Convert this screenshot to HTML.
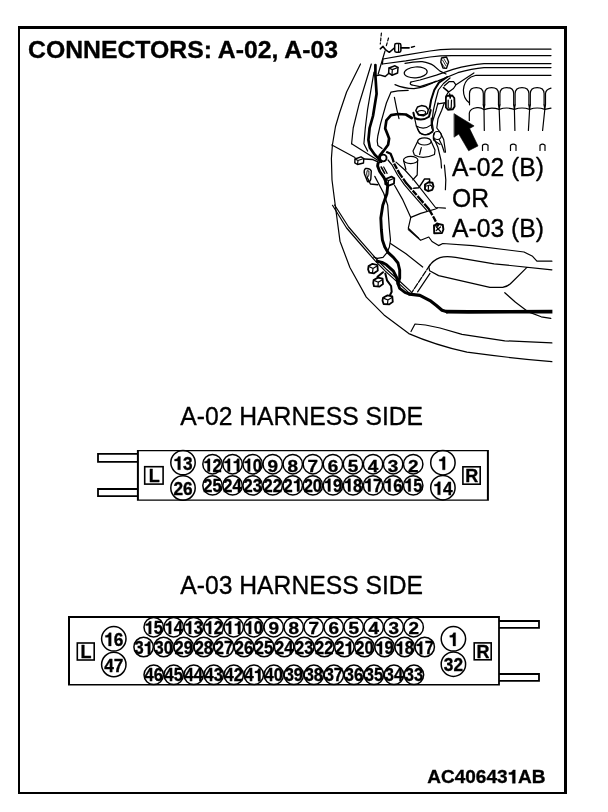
<!DOCTYPE html>
<html><head><meta charset="utf-8"><title>CONNECTORS: A-02, A-03</title>
<style>
html,body{margin:0;padding:0;background:#fff;}
body{width:608px;height:812px;overflow:hidden;position:relative;font-family:"Liberation Sans",sans-serif;}
svg{position:absolute;left:0;top:0;filter:grayscale(1);}
svg text{font-family:"Liberation Sans",sans-serif;fill:#000;stroke:#000;stroke-width:0.35px;stroke-linejoin:round;}
</style></head><body>
<svg width="608" height="812" viewBox="0 0 608 812">
<rect x="0" y="0" width="608" height="812" fill="#fff"/>
<!-- frame -->
<path d="M18 26H567V794H18Z M20 29V792H564V29Z" fill="#000" fill-rule="evenodd"/>
<text x="28.1" y="57.8" font-size="24.75" font-weight="bold">CONNECTORS: A-02, A-03</text>
<!-- car drawing -->
<g id="car" fill="none" stroke="#000" stroke-width="1.2" stroke-linecap="round" stroke-linejoin="round">
<!-- cowl / top horizontal lines -->
<path d="M383 59 L405 55.2 L430 51 Q440 49.2 452 49.2 H551"/>
<path d="M382.4 64 L405.8 60.9 L430 57 Q440 55.6 452 55.6 H551"/>
<path d="M383 59 L382.4 64"/>
<path d="M551 63.6 H484 Q470 64.5 453 69.4 L436.4 75.1 L420 80 L411 82"/>
<path d="M551 67.6 H484 Q472 68.5 457.8 72.7 L438 80.9 L420 86.6 L412 85"/>
<path d="M411 82 Q409 84 412 85"/>
<path d="M551 75.3 H476 L471 77 Q464 81 463.4 90 Q463.4 99 469.5 103"/>
<!-- dashed verticals & squiggle & top connector -->
<path d="M381.4 33 L380.3 44" stroke-dasharray="3 2"/>
<path d="M388.5 38 L386 47" stroke-dasharray="3 2"/>
<path d="M385 51 L378.2 74"/>
<path d="M380.3 48.8 L383 46.4 L386 50.2 L389.3 52.3 L394.3 48" stroke-width="1.6"/>
<rect x="394.7" y="43.6" width="6.2" height="8.6" rx="1.6" stroke-width="1.5"/>
<path d="M398.6 44.4 V51.4"/>
<path d="M401.2 47.8 H409" stroke-width="1.8"/>
<path d="M411.5 47.2 L414.5 46.4" stroke-width="1.5"/>
<!-- oval and surrounding -->
<ellipse cx="415.7" cy="72.4" rx="11.5" ry="5.4" transform="rotate(-4 415.7 72.4)"/>
<path d="M405 63.4 Q414 61.5 422.2 61.7 Q430 63 433.8 65.8 L440 71.1 L446 74"/>
<!-- small connector near squiggle -->
<path d="M389 68 L395 65.8 L398 67.5 L397.6 73 L392 75.2 L388.6 73 Z" stroke-width="1.5"/>
<path d="M389 68 L392.3 69.6 L398 67.5 M392.3 69.6 L392 75.2"/>
<path d="M375.4 75.7 L379.5 74.9 L385.2 76.5 L388.6 73.5" stroke-width="1.5"/>
<!-- fender lines upper-left -->
<path d="M360.5 64 L346.6 92 L339.5 113 L335.5 126.5 L332.4 145 L331.4 158.5 L332 180 L334.3 198 L340 241.2 L349.9 267.5 L366.3 297.1 L384 314.9 L408.8 333.6 Q435 345 467 352.2 Q510 358 551.9 361.7"/>
<path d="M371.3 64 L359 104.3 L353.2 128 L351.6 143.7"/>
<path d="M374 72 L367.6 109.3 L365.3 128 L363.9 143.7 L367.6 151.1"/>
<!-- thick wire upper-left -->
<path d="M375.4 65 L375.4 75.7 L376.6 93.8 L373 116 L369.6 128 L368.4 139.9 L369.9 147.8 L374.8 154.7 L378.8 158.6 L381.2 161.6" stroke-width="2.7"/>
<!-- inner curves -->
<path d="M395 84.6 Q403.6 88.4 414 88.6 Q426 87 435.9 81.2"/>
<path d="M408.2 90.4 L397.9 90.9 L391 92.1 L386.4 103 L380.6 123.7 L377.8 136 L377.2 141 L377.9 145.6 L382 148.6"/>
<path d="M394.4 97.3 L396.7 108.8 L399 118.6"/>
<path d="M411.7 118 L405.9 114.5 L397.9 114 L391 115.1 L386.4 120.3 L385.2 128.4 L387.4 134 L389.1 138.5 L388.1 144.8 L383.7 150.7 L379.7 155.7 L378.8 158.6" stroke-width="2.7"/>
<circle cx="383.3" cy="158" r="3.3" stroke-width="1.8"/>
<!-- reservoir cap -->
<path d="M415.8 110.5 L417.5 107 L421.5 105.6 L425.8 106.4 L428.3 109.5 L427.5 113.3 L423.5 115.8 L418.5 115 Z" stroke-width="1.5"/>
<ellipse cx="421.6" cy="112.6" rx="4" ry="2.1"/>
<path d="M413.4 112.8 L414.6 118 Q422 121.6 429 116.8 L430.7 110" stroke-width="2"/>
<path d="M414.6 118 L416.3 126 Q424 130.6 431.3 124.9 L431.3 118"/>
<path d="M416.3 126 L419.7 133 Q426.7 137.2 433 131.8 L431.3 124.9"/>
<!-- hoses -->
<path d="M447.2 77 L438.9 82.6 L434.3 90 L431.1 100 L429.6 108.6" stroke-width="2"/>
<path d="M450 78 L443.5 83.5 L438.4 90 L435.7 100 L433.4 110.2 L432 121.3 L433.4 130.3"/>
<path d="M444.4 85.8 L449 81.7 L453.6 81.7 L455.9 84.9 L453.5 88.5 L449 91.8"/>
<path d="M443.5 87.6 L448.6 91.8" stroke-width="1.6"/>
<path d="M448.6 91.8 L445.8 96.4"/>
<path d="M473.9 72.9 L456.4 84.4"/>
<path d="M438 102.8 L436.1 110.2 L432.6 121.3 L431.8 128"/>
<path d="M444.4 102.8 L441.7 110.2 L438 118.8 L436.8 128 L440.3 132.6 L443.7 139.5 L445.5 152.2"/>
<path d="M438 103.8 L444.4 102.8"/>
<circle cx="437.4" cy="135.5" r="4"/>
<path d="M434.5 139.5 L438 147.6 L440.9 160 L441.5 168"/>
<path d="M439.1 139.5 L442 145.3 L444.3 152.2"/>
<!-- clip near cowl -->
<path d="M441.5 58 L446.5 57 L448.6 62 L446.5 68.4 L443 68 L440.8 62 Z" stroke-width="1.4"/>
<path d="M442.5 60 L446 66 M444 59 L447 64 M441.5 63 L444.5 67.5" stroke-width="0.8"/>
<!-- A-02 connector on car -->
<path d="M445.9 97.5 L447 95.8 L452.3 95.5 L454.3 98 L454.6 106.5 L452.7 109.4 L448.1 109.8 L445.9 107.5 Z" stroke-width="1.8"/>
<path d="M448.2 100 V108 L451.2 108.3 L451.5 100"/>
<path d="M449.6 94 L450.3 98" stroke-width="1.6"/>
<!-- engine cover -->
<path d="M469.5 104.8 V93.5 Q469.7 87.6 476.4 87.6 Q483.1 87.6 483.3 93.5 V104.8"/>
<path d="M484.7 104.8 V93.5 Q484.9 87.6 491.6 87.6 Q498.3 87.6 498.5 93.5 V104.8"/>
<path d="M499.9 104.8 V93.5 Q500.1 87.6 506.8 87.6 Q513.5 87.6 513.7 93.5 V104.8"/>
<path d="M515.1 104.8 V93.5 Q515.3 87.6 522.0 87.6 Q528.7 87.6 528.9 93.5 V104.8"/>
<path d="M530.3 104.8 V93.5 Q530.5 87.6 537.2 87.6 Q543.9 87.6 544.1 93.5 V104.8"/>
<path d="M545.5 104.8 V93.5 Q545.8 89.5 551 88.2"/>
<path d="M469.3 120.4 V113 Q470 108.4 477 107.6 Q481.0 107.2 484.0 109.6 Q491.6 106.6 499.2 109.4 Q506.8 106.6 514.4 109.4 Q522.0 106.6 529.6 109.4 Q537.2 106.6 544.8 109.4 L551 108.2"/>
<path d="M484.0 109.5 L484.3 130.5 M499.2 109.5 L500.0 130.5 M514.4 109.5 L514.9 130.5 M529.6 109.5 L528.4 130.5 M544.8 109.5 L542.6 130.5"/>
<path d="M483.3 104.8 L484.0 109.5 L484.7 104.8 M498.5 104.8 L499.2 109.5 L499.9 104.8 M513.7 104.8 L514.4 109.5 L515.1 104.8 M528.9 104.8 L529.6 109.5 L530.3 104.8 M544.1 104.8 L544.8 109.5 L545.5 104.8"/>
<path d="M482.5 150.5 V145.2 Q485.2 143.2 488 145.2 V150.5 M510.5 150.5 V145.2 Q513.2 143.2 516 145.2 V150.5 M540 150.5 V145.2 Q542.5 143.2 545 145.2 V150.5"/>
<!-- arrow -->
<path d="M454.3 113.8 L474.1 125.9 L469.6 128.6 L478 145.9 L468.6 150.8 L458.8 134.1 L454.3 137 Z" fill="#000" stroke-width="0.6"/>
<!-- reservoir cone and cylinder -->
<ellipse cx="424.4" cy="141.4" rx="6.8" ry="3.6"/>
<path d="M417.6 141.4 L413 151 L414.4 155.1 Q423 160 434.5 154.5 L435 150 L431.2 141.4"/>
<path d="M421.3 147.6 L419.6 154.5"/>
<ellipse cx="410.7" cy="160" rx="7.2" ry="3.6"/>
<path d="M403.6 160.6 L405.9 169.5 M417.6 160.6 L417.2 175 L412.8 179.9"/>
<path d="M417.3 128 Q419 134 424 134.6 Q429 134.6 432 131.3"/>
<path d="M434.6 133 Q432.5 137 433.8 140.3 L440 144.4"/>
<!-- diagonal bar -->
<path d="M351.6 143.7 L381 162.2"/>
<path d="M331.9 145 L355 157.5"/>
<path d="M396 162.1 L404.9 170 L413.8 179.9 L435.5 207.5 L445.4 208.2"/>
<path d="M386.2 151.8 L390.6 153.7 L392.6 158.6 L394.1 163.6 L399.5 173.4 L406.4 183.3 L413.3 191.2 L419.2 198.1 L428.8 209 L434 218 L438.3 226.5" stroke-width="2.3" stroke-linecap="butt" stroke-dasharray="14 1.3 6 1.3 9 1.3"/>
<path d="M388 160 L392.2 165.2 L397.6 175 L404.5 184.9 L411.4 192.8 L417.3 199.7 L426.9 210.6"/>
<!-- left connectors -->
<path d="M355 159 L361 156.8 L363.8 158.5 L363.5 163 L357.5 164.5 L354.8 162.8 Z" stroke-width="1.4"/>
<path d="M355 159 L358 160.5 L363.8 158.5 M358 160.5 L357.5 164.5"/>
<path d="M364.4 159.1 L372.8 159.6 L379.7 162.6" stroke-width="1.5"/>
<path d="M365.5 168.5 Q363.5 170 364.5 174 L367.5 181.5 Q370 182.5 370.8 179 L371.3 171 Q370 168 365.5 168.5 Z" stroke-width="1.4"/>
<path d="M367 171 Q366 174 367.5 177.5 Q369.5 176 369 171.5 Z" stroke-width="0.9"/>
<path d="M367.1 177.3 L370.4 184 L377.8 184.7" stroke-width="1.4"/>
<path d="M385.6 179 L391.5 176.6 L394.3 178.3 L394 183.6 L388 185.8 L385.2 184 Z" stroke-width="1.8"/>
<path d="M385.6 179 L388.5 180.6 L394.3 178.3 M388.5 180.6 L388 185.8"/>
<!-- thick wire middle -->
<path d="M378 163.5 L377.6 166 L379.7 171.5 L384 177.6 L387.7 185.6 L386.9 193.8 L382.8 205.3 L380.8 218 L381.4 230 L382.4 240 L384.8 246.9 L388.2 252.7 L393.4 257.3 L398 263 L399.7 270 L399.7 278 L398 283.7 L399.7 288.4 L404.9 292.4 L409.5 294.1" stroke-width="2.9"/>
<path d="M381.2 167 L384.7 173.4" stroke-width="1.6"/>
<path d="M383.7 167 L387.1 173.4"/>
<path d="M374.8 176.4 L383.7 193.2 L387.7 205.3 L389.3 228 L390.5 240 L389.4 246.9 L387 252.7 L383 257.3 L377.3 258.4 L373.5 257"/>
<path d="M394.5 185.3 L402.4 199.1 L410.8 217.4 L408.3 228.2 L418.7 238.1"/>
<path d="M410.8 217.4 L420.7 213.4 L435.5 209 L437.5 208"/>
<!-- right connector near reservoir -->
<path d="M425 184.5 L428.5 182.3 L432.5 182.8 L433.5 186.5 L432.3 189.8 L428.2 191.2 L425 189.5 Z" stroke-width="1.9"/>
<path d="M426.5 186 L430 185 L432 186.5 M428.5 186 L428.3 189.5"/>
<path d="M413.8 188.3 L418.7 187.8 L424.6 178.9 L429.6 178.9 L429.6 182.5" stroke-width="1.5"/>
<path d="M444.4 165 L445.8 179.9 L445.4 189.7"/>
<!-- A-03 connector small -->
<path d="M434 225.5 L438.5 223.8 L442.8 225 L443.4 229.5 L442 233 L434.2 233.2 Z" stroke-width="1.9"/>
<path d="M436 226.5 L440.5 231.5 M436.2 230.5 L440.5 227"/>
<!-- lower left -->
<path d="M332.5 205.3 L346.6 228 L360 243.5 L375 260.7 L385.3 271.1 L398 282.6 L409.5 293.4"/>
<path d="M334.6 205 L348.6 227 L361.8 242.3 L376.8 259.5 L387 269.8 L399.7 281.3 L411 291.6"/>
<path d="M368.6 266 L372.5 263.8 L377.4 265 L377.8 270.5 L374 273.3 L369.3 272.6 L368.1 269.5 Z" stroke-width="1.8"/>
<path d="M369.5 266.8 L373 268.5 L377 266 M373 268.5 L372.5 272.8"/>
<path d="M373.6 280 L378 277.6 L382.6 278.6 L383 284 L379.5 286.6 L374 286.2 L373.2 283 Z" stroke-width="1.8"/>
<path d="M374.6 280.6 L378.3 282.2 L382.3 279.8 M378.3 282.2 L378 286.2"/>
<path d="M383 297.8 L387.5 295.4 L392.3 296.4 L392.8 301.8 L389.3 304.4 L383.6 304 L382.5 300.6 Z" stroke-width="1.8"/>
<path d="M384 298.4 L387.9 300 L392 297.6 M387.9 300 L387.5 304"/>
<path d="M383 272.2 L377.5 276.8" stroke-width="2"/>
<path d="M385.3 273.4 L387 280.3 L391.1 286 L391.7 291.8 L390 295.3" stroke-width="2"/>
<path d="M377.3 261.3 L382 262.4 L386.5 264.8 L393.4 271.1 L396.8 278 L398 283.7" stroke-width="3"/>
<path d="M390.5 243.5 L406 253.8 L422.7 267"/>
<path d="M430 264.8 L410.7 294.1" stroke-dasharray="6 1.5"/>
<path d="M430 273.4 L417.6 291.8"/>
<!-- thick wire bottom -->
<path d="M409.5 294.1 L419.9 295.3 L430 300.6 L436.4 305.5 L442 310.2 L447 311.7" stroke-width="3.2"/>
<path d="M446 311.7 L468.5 311.9 L552.4 311.6" stroke-width="3.7" stroke-linecap="butt"/>
<!-- headlight and hood lines -->
<path d="M408.3 229.6 L420.6 240.3 L428.8 237 L432 241.5 L438.6 245.6 L442.8 243.5 L472.8 245.6 L524 252 L532.6 256.3 L536.9 261.2 L551.9 261.2"/>
<path d="M551.9 269.8 L494.1 263.8 L455.7 257.4 Q446 255.6 440 257.6 Q433 260 428.8 266.7 L429.6 270.8 L438.6 275.6 L489.9 287.3 L502.7 287.3 Q508 286.5 511.2 283 L526.2 268.1"/>
<path d="M504.8 292.7 L515.5 302.3 L528.4 311.9 L541.2 316.8 L550.8 318.3"/>
<path d="M411 331.5 L415 324 L425.5 325 L440 328 L462 334.4 L504.8 340.8 L551.9 342.9"/>

</g>
<text transform="translate(452,176.3) scale(0.928,1)" font-size="26.6">A-02 (B)</text>
<text transform="translate(452,206.8) scale(0.928,1)" font-size="26.6">OR</text>
<text transform="translate(452,237.3) scale(0.928,1)" font-size="26.6">A-03 (B)</text>
<text transform="translate(180.3,424.8) scale(0.928,1)" font-size="26.6">A-02 HARNESS SIDE</text>
<text transform="translate(180.3,593.7) scale(0.928,1)" font-size="26.6">A-03 HARNESS SIDE</text>
<g id="a02">
<path d="M136.9 449.9H488.9V500.8H136.9Z M138.9 451.25V499.5H486.9V451.25Z" fill="#000" fill-rule="evenodd"/>
<path d="M137.5 453.9H98V461.9H137.5M137.5 489H98V496.2H137.5" fill="none" stroke="#000" stroke-width="1.8"/>
<rect x="144.7" y="466.7" width="18.40" height="17.40" fill="#fff" stroke="#000" stroke-width="1.6"/><text x="154.20" y="481.90" text-anchor="middle" font-size="18" font-weight="bold">L</text>
<rect x="462.9" y="466.8" width="17.30" height="17.40" fill="#fff" stroke="#000" stroke-width="1.6"/><text x="471.85" y="482.00" text-anchor="middle" font-size="18" font-weight="bold">R</text>
<circle cx="183.00" cy="462.60" r="12.2" fill="none" stroke="#000" stroke-width="1.5"/><path transform="translate(173.38,469.70) scale(17.298,-18.600)" d="M0.255 0H0.405V0.705H0.285L0.235 0.612L0.16 0.572L0.07 0.562V0.468H0.255Z" fill="#000" stroke="#000" stroke-width="0.02" stroke-linejoin="round"/><text transform="translate(183.00,469.70) scale(0.93,1)" font-size="18.6" font-weight="bold">3</text>
<circle cx="183.00" cy="488.00" r="12.2" fill="none" stroke="#000" stroke-width="1.5"/><text transform="translate(173.38,495.10) scale(0.93,1)" font-size="18.6" font-weight="bold">26</text>
<circle cx="442.90" cy="462.70" r="12.2" fill="none" stroke="#000" stroke-width="1.5"/><path transform="translate(438.09,469.80) scale(17.298,-18.600)" d="M0.255 0H0.405V0.705H0.285L0.235 0.612L0.16 0.572L0.07 0.562V0.468H0.255Z" fill="#000" stroke="#000" stroke-width="0.02" stroke-linejoin="round"/>
<circle cx="442.90" cy="487.70" r="12.2" fill="none" stroke="#000" stroke-width="1.5"/><path transform="translate(433.28,494.80) scale(17.298,-18.600)" d="M0.255 0H0.405V0.705H0.285L0.235 0.612L0.16 0.572L0.07 0.562V0.468H0.255Z" fill="#000" stroke="#000" stroke-width="0.02" stroke-linejoin="round"/><text transform="translate(442.90,494.80) scale(0.93,1)" font-size="18.6" font-weight="bold">4</text>
<circle cx="212.50" cy="464.20" r="9.7" fill="none" stroke="#000" stroke-width="1.5"/><path transform="translate(203.29,471.50) scale(16.560,-18.000)" d="M0.255 0H0.405V0.705H0.285L0.235 0.612L0.16 0.572L0.07 0.562V0.468H0.255Z" fill="#000" stroke="#000" stroke-width="0.02" stroke-linejoin="round"/><text transform="translate(212.50,471.50) scale(0.92,1)" font-size="18" font-weight="bold">2</text>
<circle cx="232.57" cy="464.20" r="9.7" fill="none" stroke="#000" stroke-width="1.5"/><path transform="translate(223.36,471.50) scale(16.560,-18.000)" d="M0.255 0H0.405V0.705H0.285L0.235 0.612L0.16 0.572L0.07 0.562V0.468H0.255Z" fill="#000" stroke="#000" stroke-width="0.02" stroke-linejoin="round"/><path transform="translate(232.57,471.50) scale(16.560,-18.000)" d="M0.255 0H0.405V0.705H0.285L0.235 0.612L0.16 0.572L0.07 0.562V0.468H0.255Z" fill="#000" stroke="#000" stroke-width="0.02" stroke-linejoin="round"/>
<circle cx="252.64" cy="464.20" r="9.7" fill="none" stroke="#000" stroke-width="1.5"/><path transform="translate(243.43,471.50) scale(16.560,-18.000)" d="M0.255 0H0.405V0.705H0.285L0.235 0.612L0.16 0.572L0.07 0.562V0.468H0.255Z" fill="#000" stroke="#000" stroke-width="0.02" stroke-linejoin="round"/><text transform="translate(252.64,471.50) scale(0.92,1)" font-size="18" font-weight="bold">0</text>
<circle cx="272.71" cy="464.20" r="9.7" fill="none" stroke="#000" stroke-width="1.5"/><text transform="translate(267.45,471.50) scale(1.1,1)" font-size="17.2" font-weight="bold">9</text>
<circle cx="292.78" cy="464.20" r="9.7" fill="none" stroke="#000" stroke-width="1.5"/><text transform="translate(287.52,471.50) scale(1.1,1)" font-size="17.2" font-weight="bold">8</text>
<circle cx="312.85" cy="464.20" r="9.7" fill="none" stroke="#000" stroke-width="1.5"/><text transform="translate(307.59,471.50) scale(1.1,1)" font-size="17.2" font-weight="bold">7</text>
<circle cx="332.92" cy="464.20" r="9.7" fill="none" stroke="#000" stroke-width="1.5"/><text transform="translate(327.66,471.50) scale(1.1,1)" font-size="17.2" font-weight="bold">6</text>
<circle cx="352.99" cy="464.20" r="9.7" fill="none" stroke="#000" stroke-width="1.5"/><text transform="translate(347.73,471.50) scale(1.1,1)" font-size="17.2" font-weight="bold">5</text>
<circle cx="373.06" cy="464.20" r="9.7" fill="none" stroke="#000" stroke-width="1.5"/><text transform="translate(367.80,471.50) scale(1.1,1)" font-size="17.2" font-weight="bold">4</text>
<circle cx="393.13" cy="464.20" r="9.7" fill="none" stroke="#000" stroke-width="1.5"/><text transform="translate(387.87,471.50) scale(1.1,1)" font-size="17.2" font-weight="bold">3</text>
<circle cx="413.20" cy="464.20" r="9.7" fill="none" stroke="#000" stroke-width="1.5"/><text transform="translate(407.94,471.50) scale(1.1,1)" font-size="17.2" font-weight="bold">2</text>
<circle cx="212.50" cy="485.40" r="9.7" fill="none" stroke="#000" stroke-width="1.5"/><text transform="translate(203.29,491.50) scale(0.92,1)" font-size="18" font-weight="bold">25</text>
<circle cx="232.57" cy="485.40" r="9.7" fill="none" stroke="#000" stroke-width="1.5"/><text transform="translate(223.36,491.50) scale(0.92,1)" font-size="18" font-weight="bold">24</text>
<circle cx="252.64" cy="485.40" r="9.7" fill="none" stroke="#000" stroke-width="1.5"/><text transform="translate(243.43,491.50) scale(0.92,1)" font-size="18" font-weight="bold">23</text>
<circle cx="272.71" cy="485.40" r="9.7" fill="none" stroke="#000" stroke-width="1.5"/><text transform="translate(263.50,491.50) scale(0.92,1)" font-size="18" font-weight="bold">22</text>
<circle cx="292.78" cy="485.40" r="9.7" fill="none" stroke="#000" stroke-width="1.5"/><text transform="translate(283.57,491.50) scale(0.92,1)" font-size="18" font-weight="bold">2</text><path transform="translate(292.78,491.50) scale(16.560,-18.000)" d="M0.255 0H0.405V0.705H0.285L0.235 0.612L0.16 0.572L0.07 0.562V0.468H0.255Z" fill="#000" stroke="#000" stroke-width="0.02" stroke-linejoin="round"/>
<circle cx="312.85" cy="485.40" r="9.7" fill="none" stroke="#000" stroke-width="1.5"/><text transform="translate(303.64,491.50) scale(0.92,1)" font-size="18" font-weight="bold">20</text>
<circle cx="332.92" cy="485.40" r="9.7" fill="none" stroke="#000" stroke-width="1.5"/><path transform="translate(323.71,491.50) scale(16.560,-18.000)" d="M0.255 0H0.405V0.705H0.285L0.235 0.612L0.16 0.572L0.07 0.562V0.468H0.255Z" fill="#000" stroke="#000" stroke-width="0.02" stroke-linejoin="round"/><text transform="translate(332.92,491.50) scale(0.92,1)" font-size="18" font-weight="bold">9</text>
<circle cx="352.99" cy="485.40" r="9.7" fill="none" stroke="#000" stroke-width="1.5"/><path transform="translate(343.78,491.50) scale(16.560,-18.000)" d="M0.255 0H0.405V0.705H0.285L0.235 0.612L0.16 0.572L0.07 0.562V0.468H0.255Z" fill="#000" stroke="#000" stroke-width="0.02" stroke-linejoin="round"/><text transform="translate(352.99,491.50) scale(0.92,1)" font-size="18" font-weight="bold">8</text>
<circle cx="373.06" cy="485.40" r="9.7" fill="none" stroke="#000" stroke-width="1.5"/><path transform="translate(363.85,491.50) scale(16.560,-18.000)" d="M0.255 0H0.405V0.705H0.285L0.235 0.612L0.16 0.572L0.07 0.562V0.468H0.255Z" fill="#000" stroke="#000" stroke-width="0.02" stroke-linejoin="round"/><text transform="translate(373.06,491.50) scale(0.92,1)" font-size="18" font-weight="bold">7</text>
<circle cx="393.13" cy="485.40" r="9.7" fill="none" stroke="#000" stroke-width="1.5"/><path transform="translate(383.92,491.50) scale(16.560,-18.000)" d="M0.255 0H0.405V0.705H0.285L0.235 0.612L0.16 0.572L0.07 0.562V0.468H0.255Z" fill="#000" stroke="#000" stroke-width="0.02" stroke-linejoin="round"/><text transform="translate(393.13,491.50) scale(0.92,1)" font-size="18" font-weight="bold">6</text>
<circle cx="413.20" cy="485.40" r="9.7" fill="none" stroke="#000" stroke-width="1.5"/><path transform="translate(403.99,491.50) scale(16.560,-18.000)" d="M0.255 0H0.405V0.705H0.285L0.235 0.612L0.16 0.572L0.07 0.562V0.468H0.255Z" fill="#000" stroke="#000" stroke-width="0.02" stroke-linejoin="round"/><text transform="translate(413.20,491.50) scale(0.92,1)" font-size="18" font-weight="bold">5</text>
</g>
<g id="a03">
<path d="M68 616H499.9V685.6H68Z M70 617.9V683.9H498.1V617.9Z" fill="#000" fill-rule="evenodd"/>
<path d="M499 621H539V627.9H499M499 674H539V680.8H499" fill="none" stroke="#000" stroke-width="1.8"/>
<rect x="77.3" y="643" width="16.90" height="17.00" fill="#fff" stroke="#000" stroke-width="1.6"/><text x="86.05" y="657.80" text-anchor="middle" font-size="18" font-weight="bold">L</text>
<rect x="474.2" y="642.9" width="17.00" height="16.90" fill="#fff" stroke="#000" stroke-width="1.6"/><text x="483.00" y="657.60" text-anchor="middle" font-size="18" font-weight="bold">R</text>
<circle cx="113.80" cy="638.80" r="12.2" fill="none" stroke="#000" stroke-width="1.5"/><path transform="translate(104.18,645.90) scale(17.298,-18.600)" d="M0.255 0H0.405V0.705H0.285L0.235 0.612L0.16 0.572L0.07 0.562V0.468H0.255Z" fill="#000" stroke="#000" stroke-width="0.02" stroke-linejoin="round"/><text transform="translate(113.80,645.90) scale(0.93,1)" font-size="18.6" font-weight="bold">6</text>
<circle cx="113.80" cy="664.50" r="12.2" fill="none" stroke="#000" stroke-width="1.5"/><text transform="translate(104.18,671.60) scale(0.93,1)" font-size="18.6" font-weight="bold">47</text>
<circle cx="453.40" cy="638.80" r="12.2" fill="none" stroke="#000" stroke-width="1.5"/><path transform="translate(448.59,645.90) scale(17.298,-18.600)" d="M0.255 0H0.405V0.705H0.285L0.235 0.612L0.16 0.572L0.07 0.562V0.468H0.255Z" fill="#000" stroke="#000" stroke-width="0.02" stroke-linejoin="round"/>
<circle cx="453.40" cy="664.20" r="12.2" fill="none" stroke="#000" stroke-width="1.5"/><text transform="translate(443.78,671.30) scale(0.93,1)" font-size="18.6" font-weight="bold">32</text>
<circle cx="153.70" cy="627.20" r="9.7" fill="none" stroke="#000" stroke-width="1.5"/><path transform="translate(144.49,634.00) scale(16.560,-18.000)" d="M0.255 0H0.405V0.705H0.285L0.235 0.612L0.16 0.572L0.07 0.562V0.468H0.255Z" fill="#000" stroke="#000" stroke-width="0.02" stroke-linejoin="round"/><text transform="translate(153.70,634.00) scale(0.92,1)" font-size="18" font-weight="bold">5</text>
<circle cx="173.70" cy="627.20" r="9.7" fill="none" stroke="#000" stroke-width="1.5"/><path transform="translate(164.49,634.00) scale(16.560,-18.000)" d="M0.255 0H0.405V0.705H0.285L0.235 0.612L0.16 0.572L0.07 0.562V0.468H0.255Z" fill="#000" stroke="#000" stroke-width="0.02" stroke-linejoin="round"/><text transform="translate(173.70,634.00) scale(0.92,1)" font-size="18" font-weight="bold">4</text>
<circle cx="193.70" cy="627.20" r="9.7" fill="none" stroke="#000" stroke-width="1.5"/><path transform="translate(184.49,634.00) scale(16.560,-18.000)" d="M0.255 0H0.405V0.705H0.285L0.235 0.612L0.16 0.572L0.07 0.562V0.468H0.255Z" fill="#000" stroke="#000" stroke-width="0.02" stroke-linejoin="round"/><text transform="translate(193.70,634.00) scale(0.92,1)" font-size="18" font-weight="bold">3</text>
<circle cx="213.70" cy="627.20" r="9.7" fill="none" stroke="#000" stroke-width="1.5"/><path transform="translate(204.49,634.00) scale(16.560,-18.000)" d="M0.255 0H0.405V0.705H0.285L0.235 0.612L0.16 0.572L0.07 0.562V0.468H0.255Z" fill="#000" stroke="#000" stroke-width="0.02" stroke-linejoin="round"/><text transform="translate(213.70,634.00) scale(0.92,1)" font-size="18" font-weight="bold">2</text>
<circle cx="233.70" cy="627.20" r="9.7" fill="none" stroke="#000" stroke-width="1.5"/><path transform="translate(224.49,634.00) scale(16.560,-18.000)" d="M0.255 0H0.405V0.705H0.285L0.235 0.612L0.16 0.572L0.07 0.562V0.468H0.255Z" fill="#000" stroke="#000" stroke-width="0.02" stroke-linejoin="round"/><path transform="translate(233.70,634.00) scale(16.560,-18.000)" d="M0.255 0H0.405V0.705H0.285L0.235 0.612L0.16 0.572L0.07 0.562V0.468H0.255Z" fill="#000" stroke="#000" stroke-width="0.02" stroke-linejoin="round"/>
<circle cx="253.70" cy="627.20" r="9.7" fill="none" stroke="#000" stroke-width="1.5"/><path transform="translate(244.49,634.00) scale(16.560,-18.000)" d="M0.255 0H0.405V0.705H0.285L0.235 0.612L0.16 0.572L0.07 0.562V0.468H0.255Z" fill="#000" stroke="#000" stroke-width="0.02" stroke-linejoin="round"/><text transform="translate(253.70,634.00) scale(0.92,1)" font-size="18" font-weight="bold">0</text>
<circle cx="273.70" cy="627.20" r="9.7" fill="none" stroke="#000" stroke-width="1.5"/><text transform="translate(268.44,634.00) scale(1.1,1)" font-size="17.2" font-weight="bold">9</text>
<circle cx="293.70" cy="627.20" r="9.7" fill="none" stroke="#000" stroke-width="1.5"/><text transform="translate(288.44,634.00) scale(1.1,1)" font-size="17.2" font-weight="bold">8</text>
<circle cx="313.70" cy="627.20" r="9.7" fill="none" stroke="#000" stroke-width="1.5"/><text transform="translate(308.44,634.00) scale(1.1,1)" font-size="17.2" font-weight="bold">7</text>
<circle cx="333.70" cy="627.20" r="9.7" fill="none" stroke="#000" stroke-width="1.5"/><text transform="translate(328.44,634.00) scale(1.1,1)" font-size="17.2" font-weight="bold">6</text>
<circle cx="353.70" cy="627.20" r="9.7" fill="none" stroke="#000" stroke-width="1.5"/><text transform="translate(348.44,634.00) scale(1.1,1)" font-size="17.2" font-weight="bold">5</text>
<circle cx="373.70" cy="627.20" r="9.7" fill="none" stroke="#000" stroke-width="1.5"/><text transform="translate(368.44,634.00) scale(1.1,1)" font-size="17.2" font-weight="bold">4</text>
<circle cx="393.70" cy="627.20" r="9.7" fill="none" stroke="#000" stroke-width="1.5"/><text transform="translate(388.44,634.00) scale(1.1,1)" font-size="17.2" font-weight="bold">3</text>
<circle cx="413.70" cy="627.20" r="9.7" fill="none" stroke="#000" stroke-width="1.5"/><text transform="translate(408.44,634.00) scale(1.1,1)" font-size="17.2" font-weight="bold">2</text>
<circle cx="143.60" cy="647.00" r="9.7" fill="none" stroke="#000" stroke-width="1.5"/><text transform="translate(134.39,654.30) scale(0.92,1)" font-size="18" font-weight="bold">3</text><path transform="translate(143.60,654.30) scale(16.560,-18.000)" d="M0.255 0H0.405V0.705H0.285L0.235 0.612L0.16 0.572L0.07 0.562V0.468H0.255Z" fill="#000" stroke="#000" stroke-width="0.02" stroke-linejoin="round"/>
<circle cx="163.68" cy="647.00" r="9.7" fill="none" stroke="#000" stroke-width="1.5"/><text transform="translate(154.47,654.30) scale(0.92,1)" font-size="18" font-weight="bold">30</text>
<circle cx="183.76" cy="647.00" r="9.7" fill="none" stroke="#000" stroke-width="1.5"/><text transform="translate(174.55,654.30) scale(0.92,1)" font-size="18" font-weight="bold">29</text>
<circle cx="203.84" cy="647.00" r="9.7" fill="none" stroke="#000" stroke-width="1.5"/><text transform="translate(194.63,654.30) scale(0.92,1)" font-size="18" font-weight="bold">28</text>
<circle cx="223.92" cy="647.00" r="9.7" fill="none" stroke="#000" stroke-width="1.5"/><text transform="translate(214.71,654.30) scale(0.92,1)" font-size="18" font-weight="bold">27</text>
<circle cx="244.00" cy="647.00" r="9.7" fill="none" stroke="#000" stroke-width="1.5"/><text transform="translate(234.79,654.30) scale(0.92,1)" font-size="18" font-weight="bold">26</text>
<circle cx="264.08" cy="647.00" r="9.7" fill="none" stroke="#000" stroke-width="1.5"/><text transform="translate(254.87,654.30) scale(0.92,1)" font-size="18" font-weight="bold">25</text>
<circle cx="284.16" cy="647.00" r="9.7" fill="none" stroke="#000" stroke-width="1.5"/><text transform="translate(274.95,654.30) scale(0.92,1)" font-size="18" font-weight="bold">24</text>
<circle cx="304.24" cy="647.00" r="9.7" fill="none" stroke="#000" stroke-width="1.5"/><text transform="translate(295.03,654.30) scale(0.92,1)" font-size="18" font-weight="bold">23</text>
<circle cx="324.32" cy="647.00" r="9.7" fill="none" stroke="#000" stroke-width="1.5"/><text transform="translate(315.11,654.30) scale(0.92,1)" font-size="18" font-weight="bold">22</text>
<circle cx="344.40" cy="647.00" r="9.7" fill="none" stroke="#000" stroke-width="1.5"/><text transform="translate(335.19,654.30) scale(0.92,1)" font-size="18" font-weight="bold">2</text><path transform="translate(344.40,654.30) scale(16.560,-18.000)" d="M0.255 0H0.405V0.705H0.285L0.235 0.612L0.16 0.572L0.07 0.562V0.468H0.255Z" fill="#000" stroke="#000" stroke-width="0.02" stroke-linejoin="round"/>
<circle cx="364.48" cy="647.00" r="9.7" fill="none" stroke="#000" stroke-width="1.5"/><text transform="translate(355.27,654.30) scale(0.92,1)" font-size="18" font-weight="bold">20</text>
<circle cx="384.56" cy="647.00" r="9.7" fill="none" stroke="#000" stroke-width="1.5"/><path transform="translate(375.35,654.30) scale(16.560,-18.000)" d="M0.255 0H0.405V0.705H0.285L0.235 0.612L0.16 0.572L0.07 0.562V0.468H0.255Z" fill="#000" stroke="#000" stroke-width="0.02" stroke-linejoin="round"/><text transform="translate(384.56,654.30) scale(0.92,1)" font-size="18" font-weight="bold">9</text>
<circle cx="404.64" cy="647.00" r="9.7" fill="none" stroke="#000" stroke-width="1.5"/><path transform="translate(395.43,654.30) scale(16.560,-18.000)" d="M0.255 0H0.405V0.705H0.285L0.235 0.612L0.16 0.572L0.07 0.562V0.468H0.255Z" fill="#000" stroke="#000" stroke-width="0.02" stroke-linejoin="round"/><text transform="translate(404.64,654.30) scale(0.92,1)" font-size="18" font-weight="bold">8</text>
<circle cx="424.72" cy="647.00" r="9.7" fill="none" stroke="#000" stroke-width="1.5"/><path transform="translate(415.51,654.30) scale(16.560,-18.000)" d="M0.255 0H0.405V0.705H0.285L0.235 0.612L0.16 0.572L0.07 0.562V0.468H0.255Z" fill="#000" stroke="#000" stroke-width="0.02" stroke-linejoin="round"/><text transform="translate(424.72,654.30) scale(0.92,1)" font-size="18" font-weight="bold">7</text>
<circle cx="153.70" cy="674.80" r="9.7" fill="none" stroke="#000" stroke-width="1.5"/><text transform="translate(144.49,681.30) scale(0.92,1)" font-size="18" font-weight="bold">46</text>
<circle cx="173.72" cy="674.80" r="9.7" fill="none" stroke="#000" stroke-width="1.5"/><text transform="translate(164.51,681.30) scale(0.92,1)" font-size="18" font-weight="bold">45</text>
<circle cx="193.74" cy="674.80" r="9.7" fill="none" stroke="#000" stroke-width="1.5"/><text transform="translate(184.53,681.30) scale(0.92,1)" font-size="18" font-weight="bold">44</text>
<circle cx="213.76" cy="674.80" r="9.7" fill="none" stroke="#000" stroke-width="1.5"/><text transform="translate(204.55,681.30) scale(0.92,1)" font-size="18" font-weight="bold">43</text>
<circle cx="233.78" cy="674.80" r="9.7" fill="none" stroke="#000" stroke-width="1.5"/><text transform="translate(224.57,681.30) scale(0.92,1)" font-size="18" font-weight="bold">42</text>
<circle cx="253.80" cy="674.80" r="9.7" fill="none" stroke="#000" stroke-width="1.5"/><text transform="translate(244.59,681.30) scale(0.92,1)" font-size="18" font-weight="bold">4</text><path transform="translate(253.80,681.30) scale(16.560,-18.000)" d="M0.255 0H0.405V0.705H0.285L0.235 0.612L0.16 0.572L0.07 0.562V0.468H0.255Z" fill="#000" stroke="#000" stroke-width="0.02" stroke-linejoin="round"/>
<circle cx="273.82" cy="674.80" r="9.7" fill="none" stroke="#000" stroke-width="1.5"/><text transform="translate(264.61,681.30) scale(0.92,1)" font-size="18" font-weight="bold">40</text>
<circle cx="293.84" cy="674.80" r="9.7" fill="none" stroke="#000" stroke-width="1.5"/><text transform="translate(284.63,681.30) scale(0.92,1)" font-size="18" font-weight="bold">39</text>
<circle cx="313.86" cy="674.80" r="9.7" fill="none" stroke="#000" stroke-width="1.5"/><text transform="translate(304.65,681.30) scale(0.92,1)" font-size="18" font-weight="bold">38</text>
<circle cx="333.88" cy="674.80" r="9.7" fill="none" stroke="#000" stroke-width="1.5"/><text transform="translate(324.67,681.30) scale(0.92,1)" font-size="18" font-weight="bold">37</text>
<circle cx="353.90" cy="674.80" r="9.7" fill="none" stroke="#000" stroke-width="1.5"/><text transform="translate(344.69,681.30) scale(0.92,1)" font-size="18" font-weight="bold">36</text>
<circle cx="373.92" cy="674.80" r="9.7" fill="none" stroke="#000" stroke-width="1.5"/><text transform="translate(364.71,681.30) scale(0.92,1)" font-size="18" font-weight="bold">35</text>
<circle cx="393.94" cy="674.80" r="9.7" fill="none" stroke="#000" stroke-width="1.5"/><text transform="translate(384.73,681.30) scale(0.92,1)" font-size="18" font-weight="bold">34</text>
<circle cx="413.96" cy="674.80" r="9.7" fill="none" stroke="#000" stroke-width="1.5"/><text transform="translate(404.75,681.30) scale(0.92,1)" font-size="18" font-weight="bold">33</text>
</g>
<text x="427.3" y="783.3" font-size="19" font-weight="bold">AC40643</text><path transform="translate(507.56,783.3) scale(19,-19)" d="M0.255 0H0.405V0.705H0.285L0.235 0.612L0.16 0.572L0.07 0.562V0.468H0.255Z" fill="#000" stroke="#000" stroke-width="0.02" stroke-linejoin="round"/><text x="518.12" y="783.3" font-size="19" font-weight="bold">AB</text>
</svg>
</body></html>
